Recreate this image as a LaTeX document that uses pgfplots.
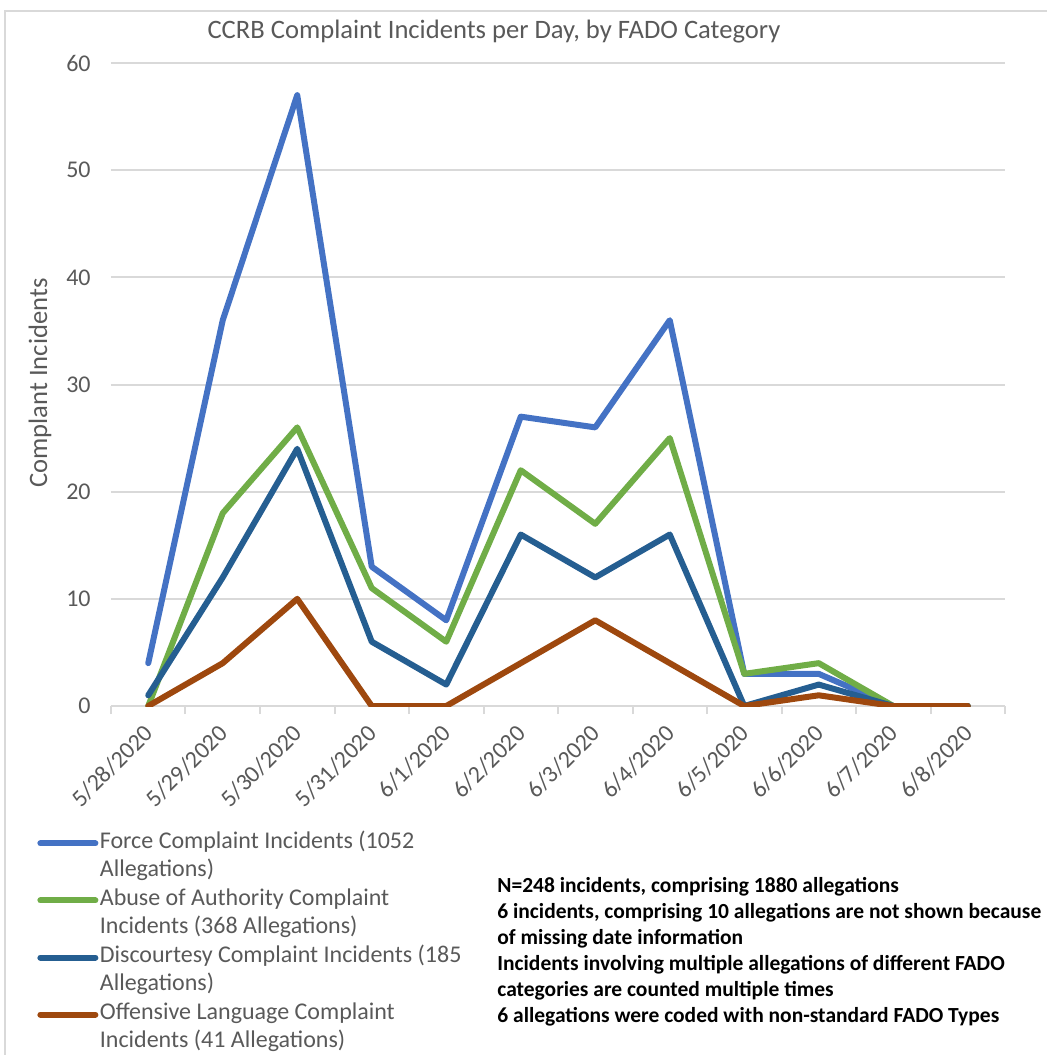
\documentclass[border=0pt]{standalone}
\usepackage{pgfplots}
\pgfplotsset{compat=1.18}
\usepackage{fontspec}
\setmainfont{Carlito}

\definecolor{cForce}{HTML}{4472C4}
\definecolor{cAbuse}{HTML}{70AD47}
\definecolor{cDisc}{HTML}{255E91}
\definecolor{cOff}{HTML}{9E480E}
\definecolor{gridc}{HTML}{D9D9D9}
\definecolor{txt}{HTML}{595959}

\begin{document}
\begin{tikzpicture}
\useasboundingbox (0,0) rectangle (523.5pt,-527.5pt);
% chart frame (left and top edges visible)
\draw[gridc, line width=1pt] (2.5pt,-527.5pt) -- (2.5pt,-5.5pt) -- (523.5pt,-5.5pt);

\begin{axis}[
    at={(55.5pt,-353pt)}, anchor=south west,
    scale only axis, width=447pt, height=321.5pt,
    xmin=-0.5, xmax=11.5, ymin=0, ymax=60,
    xtick={0,...,11},
    xticklabels={5/28/2020,5/29/2020,5/30/2020,5/31/2020,6/1/2020,6/2/2020,6/3/2020,6/4/2020,6/5/2020,6/6/2020,6/7/2020,6/8/2020},
    minor xtick={-0.5,0.5,...,11.5},
    ytick={0,10,...,60},
    tick pos=left, xtick align=outside,
    major tick length=0pt, minor tick length=4pt,
    minor tick style={gridc, line width=1pt},
    ymajorgrids, grid style={gridc, line width=1pt},
    separate axis lines,
    x axis line style={gridc, line width=1pt},
    y axis line style={draw=none},
    /pgf/number format/assume math mode=true,
    tick label style={font=\fontsize{12}{14}\selectfont, text=txt},
    xticklabel style={xshift=0.5pt, yshift=-11.5pt, rotate=45, anchor=east, inner sep=0pt},
    yticklabel style={inner sep=0pt, xshift=-10pt},
    legend style={at={(axis description cs:-0.0828,-0.1916)}, anchor=north west,
        draw=none, fill=none, inner sep=0pt, row sep=3pt, column sep=0pt,
        font=\fontsize{12}{14}\selectfont, text=txt,
        nodes={inner sep=0.75pt, align=left}},
    legend cell align=left,
    legend image code/.code={\draw[#1, line width=3pt] (0pt,0.35em+2.5pt) -- (27.5pt,0.35em+2.5pt);},
    every axis plot/.append style={line width=3pt, line join=round, line cap=round},
]
\addplot[cForce] coordinates {
    (0,4) (1,36) (2,57) (3,13) (4,8) (5,27) (6,26) (7,36) (8,3) (9,3) (10,0) (11,0)};
\addlegendentry{Force Complaint Incidents (1052\\Allegations)}
\addplot[cAbuse] coordinates {
    (0,0) (1,18) (2,26) (3,11) (4,6) (5,22) (6,17) (7,25) (8,3) (9,4) (10,0) (11,0)};
\addlegendentry{Abuse of Authority Complaint\\Incidents (368 Allegations)}
\addplot[cDisc] coordinates {
    (0,1) (1,12) (2,24) (3,6) (4,2) (5,16) (6,12) (7,16) (8,0) (9,2) (10,0) (11,0)};
\addlegendentry{Discourtesy Complaint Incidents (185\\Allegations)}
\addplot[cOff] coordinates {
    (0,0) (1,4) (2,10) (3,0) (4,0) (5,4) (6,8) (7,4) (8,0) (9,1) (10,0) (11,0)};
\addlegendentry{Offensive Language Complaint\\Incidents (41 Allegations)}
\end{axis}

\node[text=txt, font=\fontsize{13.3}{16}\selectfont] at (247pt,-16pt)
    {CCRB Complaint Incidents per Day, by FADO Category};
\node[text=txt, rotate=90, font=\fontsize{13.3}{16}\selectfont] at (20pt,-191.5pt)
    {Complant Incidents};
\node[anchor=north west, inner sep=0pt, align=left,
      font=\fontsize{10.75}{13}\selectfont\bfseries] at (248.5pt,-438.5pt)
    {N=248 incidents, comprising 1880 allegations\\
     6 incidents, comprising 10 allegations are not shown because\\
     of missing date information\\
     Incidents involving multiple allegations of different FADO\\
     categories are counted multiple times\\
     6 allegations were coded with non-standard FADO Types};
\end{tikzpicture}
\end{document}
